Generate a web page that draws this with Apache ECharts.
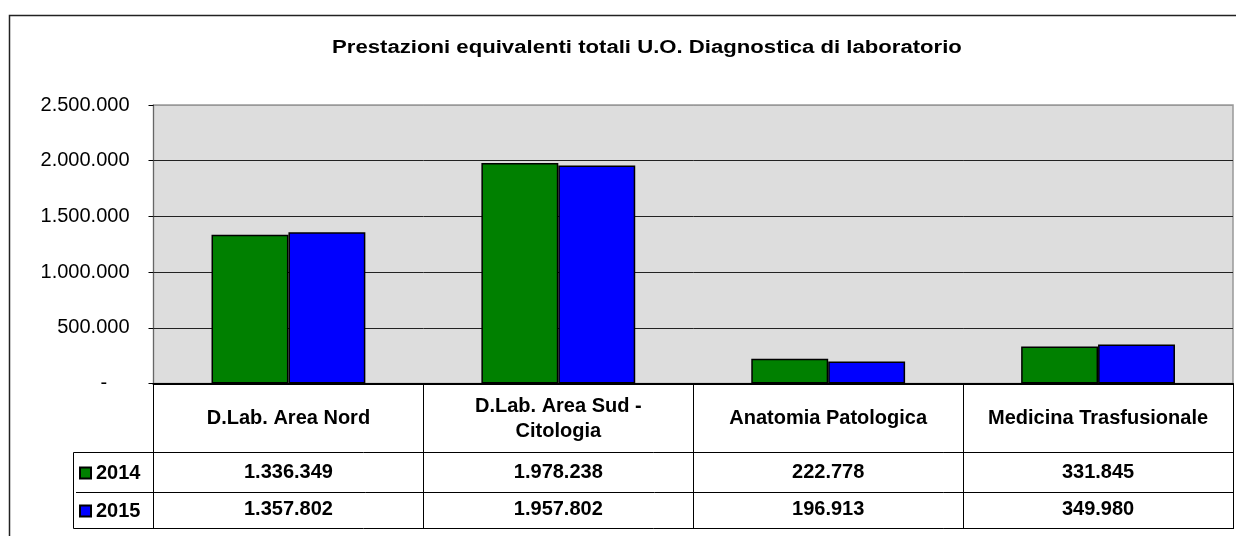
<!DOCTYPE html>
<html><head><meta charset="utf-8">
<script src="https://cdn.jsdelivr.net/npm/echarts@6/dist/echarts.min.js"></script>
<style>html,body{margin:0;padding:0;background:#fff}#c{width:1236px;height:536px}</style>
</head><body><div id="c"></div>
<script>
const categories = ['D.Lab. Area Nord', 'D.Lab. Area Sud -\nCitologia', 'Anatomia Patologica', 'Medicina Trasfusionale'];
const seriesNames = ['2014', '2015'];
const values2014 = [1336349, 1978238, 222778, 331845];
const values2015 = [1357802, 1957802, 196913, 349980];
const yMin = 0, yMax = 2500000, yInterval = 500000;
const title = 'Prestazioni equivalenti totali U.O. Diagnostica di laboratorio';

const FONT = '"Liberation Sans", Arial, sans-serif';
function fmt(v) {
  return String(Math.round(v)).replace(/\B(?=(\d{3})+(?!\d))/g, '.');
}
const GL = 153.5, GR = 1233, GT = 105, GB = 383.5;
const chart = echarts.init(document.getElementById('c'), null, {renderer: 'canvas'});
const tableLabel = {fontFamily: FONT, fontSize: 20, fontWeight: 'bold', color: '#000', verticalAlign: 'middle', interval: 0};
chart.setOption({
  animation: false,
  backgroundColor: '#fff',
  legend: {
    orient: 'vertical', left: 79, top: 463, padding: 0, itemWidth: 11, itemHeight: 11, itemGap: 18,
    icon: 'rect', selectedMode: false,
    textStyle: {fontFamily: FONT, fontSize: 20, fontWeight: 'bold', color: '#000', lineHeight: 20},
    data: seriesNames
  },
  grid: {
    left: GL, right: 1236 - GR, top: GT, bottom: 536 - GB, containLabel: false,
    show: true, backgroundColor: '#dddddd', borderColor: '#999', borderWidth: 1.5
  },
  xAxis: [
    {
      type: 'category', data: categories, position: 'bottom',
      axisLine: {show: true, lineStyle: {color: '#000', width: 2}},
      axisTick: {show: true, interval: 0, length: 145.5, lineStyle: {color: '#000', width: 1}},
      axisLabel: Object.assign({}, tableLabel, {margin: 35, lineHeight: 25}),
      splitLine: {show: false}
    },
    {
      type: 'category', data: categories, position: 'bottom',
      axisLine: {show: false}, axisTick: {show: false}, splitLine: {show: false},
      axisLabel: Object.assign({}, tableLabel, {margin: 89, formatter: (v, i) => fmt(values2014[i])})
    },
    {
      type: 'category', data: categories, position: 'bottom',
      axisLine: {show: false}, axisTick: {show: false}, splitLine: {show: false},
      axisLabel: Object.assign({}, tableLabel, {margin: 126, formatter: (v, i) => fmt(values2015[i])})
    }
  ],
  yAxis: {
    type: 'value', min: yMin, max: yMax, interval: yInterval,
    axisLine: {show: true, lineStyle: {color: '#666', width: 1}},
    axisTick: {show: true, length: 5, lineStyle: {color: '#000'}},
    axisLabel: {
      fontFamily: FONT, fontSize: 20, color: '#000', margin: 24,
      formatter: v => v === 0 ? '-    ' : fmt(v)
    },
    splitLine: {show: true, lineStyle: {color: ['#000', '#222', '#222', '#222', '#222', '#999'], width: 1}}
  },
  series: [
    {
      name: seriesNames[0], type: 'bar', data: values2014, xAxisIndex: 0,
      barGap: '0%', barCategoryGap: '43%',
      itemStyle: {color: '#008000', borderColor: '#000', borderWidth: 1.5}
    },
    {
      name: seriesNames[1], type: 'bar', data: values2015, xAxisIndex: 0,
      barGap: '0%', barCategoryGap: '43%',
      itemStyle: {color: '#0000ff', borderColor: '#000', borderWidth: 1.5}
    }
  ],
  graphic: [
    {type: 'text', x: 647, y: 48, scaleX: 1.265, silent: true,
     style: {text: title, fontFamily: FONT, fontSize: 17.5, fontWeight: 'bold', fill: '#000', textAlign: 'center', textVerticalAlign: 'middle'}},
    {type: 'rect', shape: {x: 9.5, y: 15.5, width: 1300, height: 600}, style: {fill: null, stroke: '#222', lineWidth: 1.5}, silent: true},
    {type: 'line', shape: {x1: 73.5, y1: 452.5, x2: GR, y2: 452.5}, style: {stroke: '#000', lineWidth: 1}, silent: true},
    {type: 'line', shape: {x1: 76, y1: 492.5, x2: GR, y2: 492.5}, style: {stroke: '#000', lineWidth: 1}, silent: true},
    {type: 'line', shape: {x1: 73.5, y1: 528.5, x2: GR, y2: 528.5}, style: {stroke: '#000', lineWidth: 1}, silent: true},
    {type: 'line', shape: {x1: 73.5, y1: 452.5, x2: 73.5, y2: 528.5}, style: {stroke: '#000', lineWidth: 1}, silent: true}
  ]
});
</script>
</body></html>
